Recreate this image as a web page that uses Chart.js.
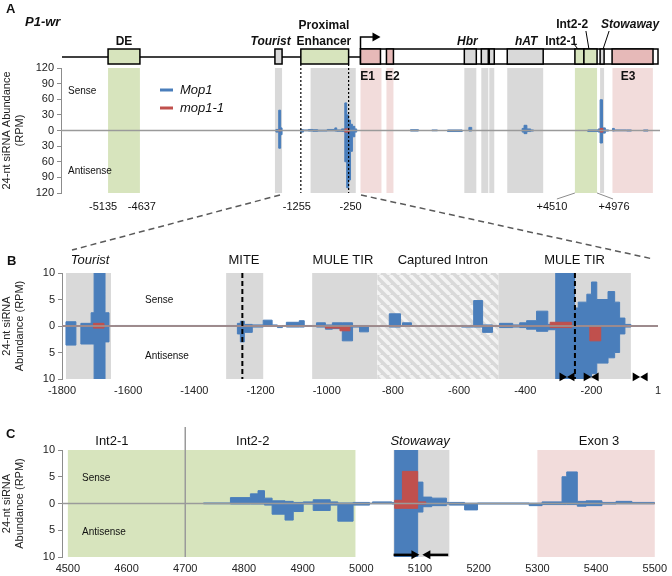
<!DOCTYPE html>
<html>
<head>
<meta charset="utf-8">
<title>P1-wr 24-nt siRNA</title>
<script src="https://cdn.jsdelivr.net/npm/chart.js@4.4.1/dist/chart.umd.min.js"></script>
<style>
  html, body { margin:0; padding:0; background:#fff; }
  #page { position:relative; width:672px; height:576px; overflow:hidden; }
  .pane { position:absolute; left:0; }
  #zoom { position:absolute; left:0; top:0; pointer-events:none; }
</style>
</head>
<body>
<div id="page">
  <canvas class="pane" id="chartA" width="672" height="225" style="top:0"></canvas>
  <canvas class="pane" id="chartB" width="672" height="175" style="top:225px"></canvas>
  <canvas class="pane" id="chartC" width="672" height="176" style="top:400px"></canvas>
  <svg id="zoom" width="672" height="576">
    <line x1="280" y1="195" x2="72" y2="250" stroke="#5a5a5a" stroke-width="1.5" stroke-dasharray="6 4"/>
    <line x1="361" y1="195" x2="653" y2="259" stroke="#5a5a5a" stroke-width="1.5" stroke-dasharray="6 4"/>
  </svg>
</div>
<script>
// ===== P1-wr 24-nt siRNA profiles =====

// --- panel A : whole locus (bp from TSS) ---
const A_MOP1_POS   = [-6300,-1780,-1720,-1680,-1650,-1260,-1200,-1100,-1000,-900,-700,-540,-500,-400,-330,-290,-250,-210,-170,-120,-80,1050,1220,1500,1620,1830,2140,2280,2340,3400,3440,3500,3580,3640,4780,5000,5040,5090,5150,5220,5300,5340,5600,5700,5950,6050,6300];
const A_MOP1_SENSE = [0,2,39,5,0,1.5,1,2,1.5,0.5,2,5,1,3,53,30,20,12,8,3,0,1.5,0,1,0,1,0,6,0,4,10,3,1,0,1,3,59,5,1,0,4,1,1,0,1,0,0];
const A_MOP1_ANTI  = [0,3,34,8,0,3,0.5,1,1.5,1,0.5,1,1.5,2,60,110,95,40,12,3,0,1,0,0.5,0,2,0,1,0,3,6,2,1,0,2,3,24,5,1,0,1,0.5,1,0,1,0,0];
const A_MUT_POS    = [-6300,-1720,-1680,-330,-230,5040,5100,6300];
const A_MUT_SENSE  = [0,1,0,3,0,4,0,0];
const A_MUT_ANTI   = [0,1,0,3,0,3,0,0];

const A_REGION_START = [-5310,-1800,-1050,0,546,2184,2541,2709,3087,4510,5040,5300];
const A_REGION_END   = [-4640,-1650,-100,441,693,2436,2688,2814,3843,4976,5124,6150];
const A_REGION_KIND  = ['green','gray','gray','pink','pink','gray','gray','gray','gray','green','gray','pink'];

const A_BOX_START = [-5310,-1800,-1255,0,0,546,2184,2541,2709,3087,4510,4700,5040,5292];
const A_BOX_END   = [-4640,-1650,-250,6258,420,693,2436,2688,2814,3843,4700,4976,5124,6153];
const A_BOX_KIND  = ['green','gray','green','white','pink','pink','gray','gray','gray','gray','green','green','gray','pink'];

const A_CUT_LABELS = ['-5135','-4637','-1255','-250','+4510','+4976'];
const A_CUT_AT     = [-5310,-4640,-1255,-250,4510,4976];
const A_MARKS      = [-1255,-250];

// --- panel B : upstream region ---
const B_TICKS = [-1800,-1600,-1400,-1200,-1000,-800,-600,-400,-200,1];
const B_MOP1_POS   = [-1800,-1788,-1758,-1743,-1712,-1703,-1670,-1658,-1640,-1270,-1261,-1249,-1225,-1192,-1165,-1149,-1134,-1122,-1083,-1068,-1031,-1004,-983,-953,-922,-901,-874,-811,-777,-771,-744,-593,-556,-529,-499,-478,-438,-417,-396,-366,-332,-308,-251,-240,-214,-200,-184,-150,-130,-115,-99,-81,1];
const B_MOP1_SENSE = [0,0.8,0,0.5,2.5,14,2.5,0,0.1,0.5,0.9,0.3,0.2,1.1,0.2,0,0.1,0.7,1.0,0.1,0.6,0.2,0.6,0.6,0.1,0.1,0,2.3,0.1,0.6,0.05,0.1,4.8,0.2,0.1,0.5,0.2,0.6,1.0,2.8,0.3,14,3.4,4.5,6.0,8.3,5.0,6.5,4.5,1.5,0.3,0.05,0];
const B_MOP1_ANTI  = [0,3.6,0,3.4,3.4,14,3.0,0,0.05,1.5,3.0,1.2,0.2,0.1,0.1,0.3,0,0.2,0.2,0.1,0.2,0.6,0.5,2.8,0.2,1.1,0.1,0.2,0.1,0.1,0.05,0.2,0.2,1.2,0.1,0.3,0.2,0.3,0.6,1.0,0.7,14,14,14,9.6,9.0,7.0,6.0,5.0,1.5,0.2,0.05,0];
const B_MUT_POS    = [-1800,-1705,-1673,-1004,-960,-930,-325,-260,-205,-172,1];
const B_MUT_SENSE  = [0,0.5,0,0,0,0,0.7,0,0,0,0];
const B_MUT_ANTI   = [0,0.4,0,0.4,0.9,0,0.3,0,2.8,0,0];

const B_REGION_START = [-1788,-1304,-1044,-847,-481];
const B_REGION_END   = [-1652,-1192,-847,-481,-81];
const B_REGION_KIND  = ['gray','gray','gray','hatch','gray'];
const B_LABELS   = ['Tourist','MITE','MULE TIR','Captured Intron','MULE TIR'];
const B_LABEL_AT = [-1715,-1250,-951,-649,-251];
const B_MARKS    = [-1255,-250];
const B_TIR_RIGHT = [-289,-216,-68];
const B_TIR_LEFT  = [-259,-186,-38];

// --- panel C : intron 2 / exon 3 ---
const C_TICKS = [4500,4600,4700,4800,4900,5000,5100,5200,5300,5400,5500];
const C_MOP1_POS   = [4490,4731,4777,4811,4824,4835,4848,4870,4884,4901,4918,4947,4960,4986,5014,5019,5052,5057,5096,5105,5120,5145,5150,5176,5198,5286,5308,5342,5350,5368,5383,5410,5434,5461,5500];
const C_MOP1_SENSE = [0,0.1,1.1,1.8,2.4,1.0,0.5,0.4,0.2,0.3,0.7,0.3,0.1,0.2,0.05,0.3,0.2,14,4.0,1.2,1.0,0.2,0.2,0.05,0.1,0.05,0.3,5.0,5.9,0.4,0.5,0.2,0.4,0.2,0];
const C_MOP1_ANTI  = [0,0.05,0.1,0.1,0.1,0.3,2.0,3.1,1.5,0.1,1.3,0.3,3.3,0.3,0.05,0.05,0.1,14,1.6,0.6,0.4,0.1,0.3,1.2,0.1,0.4,0.2,0.2,0.2,0.5,0.4,0.1,0.05,0.05,0];
const C_MUT_POS    = [4490,5057,5070,5096,5110,5500];
const C_MUT_SENSE  = [0,0.6,6.0,0.3,0,0];
const C_MUT_ANTI   = [0,0.9,0.9,0.1,0,0];

const C_REGION_START = [4500,4700,5055,5300];
const C_REGION_END   = [4700,4990,5150,5500];
const C_REGION_KIND  = ['green','green','gray','pink'];
const C_LABELS   = ['Int2-1','Int2-2','Stowaway','Exon 3'];
const C_LABEL_AT = [4575,4815,5100,5405];
const C_DIVIDER  = 4700;
const C_ARROW_FROM = [5055,5148];
const C_ARROW_TO   = [5099,5104];

// ---------- styling ----------
const FONT  = "'Liberation Sans', Arial, Helvetica, sans-serif";
const BLUE  = '#4a7ebb', RED = '#c0504d';
const SHADE = { green:'#d7e4bd', gray:'#d9d9d9', pink:'#f2dcdb' };
const BOX   = { green:'#d7e4bd', gray:'#d9d9d9', pink:'#e6b9b8', white:'#ffffff' };

Chart.defaults.font.family = FONT;
Chart.defaults.font.size = 11;
Chart.defaults.color = '#222';

let hatch = null;
function hatchPattern(ctx) {
  if (hatch) return hatch;
  const c = document.createElement('canvas');
  c.width = c.height = 10;
  const g = c.getContext('2d');
  g.fillStyle = '#d9d9d9'; g.fillRect(0, 0, 10, 10);
  g.strokeStyle = '#f3f3f3'; g.lineWidth = 3.5;
  g.beginPath();
  [-10, 0, 10].forEach(o => { g.moveTo(o, 0); g.lineTo(o + 10, 10); });
  g.stroke();
  hatch = ctx.createPattern(c, 'repeat');
  return hatch;
}

function shade(chart, starts, ends, kinds) {
  const { ctx, chartArea:a, scales:{ x } } = chart;
  ctx.save();
  starts.forEach((s, i) => {
    const x0 = Math.max(a.left, x.getPixelForValue(s));
    const x1 = Math.min(a.right, x.getPixelForValue(ends[i]));
    ctx.fillStyle = kinds[i] === 'hatch' ? hatchPattern(ctx) : SHADE[kinds[i]];
    ctx.fillRect(x0, a.top, x1 - x0, a.bottom - a.top);
  });
  ctx.restore();
}

function zeroLine(chart) {
  const { ctx, chartArea:a, scales:{ y } } = chart;
  const y0 = y.getPixelForValue(0);
  ctx.save();
  ctx.strokeStyle = '#9a9a9a'; ctx.lineWidth = 1.5;
  ctx.beginPath(); ctx.moveTo(a.left, y0); ctx.lineTo(a.right, y0); ctx.stroke();
  ctx.restore();
}

function vmarks(chart, xs, top, dash, width) {
  const { ctx, chartArea:a, scales:{ x } } = chart;
  ctx.save();
  ctx.strokeStyle = '#000'; ctx.lineWidth = width; ctx.setLineDash(dash);
  xs.forEach(v => {
    const p = x.getPixelForValue(v);
    ctx.beginPath(); ctx.moveTo(p, top); ctx.lineTo(p, a.bottom); ctx.stroke();
  });
  ctx.restore();
}

function text(ctx, s, x, y, font, align, base) {
  ctx.save();
  ctx.font = font + ' ' + FONT;
  ctx.fillStyle = '#111';
  ctx.textAlign = align || 'center';
  ctx.textBaseline = base || 'alphabetic';
  ctx.fillText(s, x, y);
  ctx.restore();
}

function seg(ctx, x0, y0, x1, y1) {
  ctx.beginPath(); ctx.moveTo(x0, y0); ctx.lineTo(x1, y1); ctx.stroke();
}

function strandLabels(chart, dx, sy, ay) {
  const { ctx, chartArea:a, scales:{ y } } = chart;
  text(ctx, 'Sense', a.left + dx, y.getPixelForValue(sy), '10px', 'left', 'middle');
  text(ctx, 'Antisense', a.left + dx, y.getPixelForValue(ay), '10px', 'left', 'middle');
}

function strand(label, pos, vals, sign, color) {
  return {
    label, data: pos.map((p, i) => ({ x:p, y:sign * vals[i] })),
    stepped:true, fill:'origin', backgroundColor:color, borderColor:color,
    borderWidth:1, pointRadius:0
  };
}

// index 0 is painted last, so mop1-1 sits on top of Mop1
function traces(mPos, mS, mA, uPos, uS, uA) {
  return [
    strand('mop1-1', uPos, uS, 1, RED), strand('mop1-1', uPos, uA, -1, RED),
    strand('Mop1', mPos, mS, 1, BLUE),  strand('Mop1', mPos, mA, -1, BLUE)
  ];
}

function yAxis(lim, step, title, width) {
  return {
    min:-lim, max:lim,
    ticks:{ stepSize:step, autoSkip:false, callback:v => Math.abs(v), color:'#222', font:{ size:11 }, padding:3 },
    grid:{ drawOnChartArea:false, tickLength:4, color:'#8c8c8c' },
    border:{ color:'#8c8c8c' },
    title:{ display:true, text:title, color:'#222', font:{ size:11 }, padding:0 },
    afterFit: s => { s.width = width; }
  };
}

function xAxis(min, max, ticks, height) {
  return {
    type:'linear', min, max,
    afterBuildTicks: s => { s.ticks = ticks.map(v => ({ value:v })); },
    ticks:{ autoSkip:false, maxRotation:0, padding:5, color:'#222', font:{ size:11 }, callback:v => String(v) },
    grid:{ display:false, drawTicks:false }, border:{ display:false },
    afterFit: s => { s.height = height; }
  };
}

function options(padding, x, y) {
  return {
    responsive:false, animation:false, events:[],
    layout:{ padding },
    plugins:{ legend:{ display:false }, tooltip:{ enabled:false } },
    scales:{ x, y }
  };
}

// ---------- panel A ----------
const panelA = {
  id:'panelA',
  beforeDatasetsDraw(chart) { shade(chart, A_REGION_START, A_REGION_END, A_REGION_KIND); },
  afterDatasetsDraw(chart) {
    zeroLine(chart);
    vmarks(chart, A_MARKS, 64, [2, 2], 1.2);
  },
  afterDraw(chart) {
    const { ctx, chartArea:a, scales:{ x } } = chart;
    const px = v => x.getPixelForValue(v);
    ctx.save();
    ctx.strokeStyle = '#000'; ctx.lineWidth = 1.5;
    seg(ctx, a.left + 1, 57, px(0), 57);
    A_BOX_START.forEach((s, i) => {
      const x0 = px(s), x1 = px(A_BOX_END[i]);
      ctx.fillStyle = BOX[A_BOX_KIND[i]];
      ctx.fillRect(x0, 49, x1 - x0, 15);
      ctx.strokeRect(x0, 49, x1 - x0, 15);
    });
    // transcription start arrow
    const p0 = px(0);
    ctx.beginPath(); ctx.moveTo(p0, 49); ctx.lineTo(p0, 37); ctx.lineTo(p0 + 13, 37); ctx.stroke();
    ctx.fillStyle = '#000';
    ctx.beginPath(); ctx.moveTo(p0 + 12, 32.5); ctx.lineTo(p0 + 20, 37); ctx.lineTo(p0 + 12, 41.5); ctx.closePath(); ctx.fill();
    // pointer lines to small features
    ctx.lineWidth = 1;
    seg(ctx, px(4510) - 1, 44, px(4510) + 3, 49);
    seg(ctx, px(4700) + 2, 31, px(4700) + 5, 49);
    seg(ctx, px(5040) + 9, 31, px(5040) + 3, 49);
    ctx.strokeStyle = '#8c8c8c';
    seg(ctx, px(4510), 193, px(4510) - 18, 199);
    seg(ctx, px(4976), 193, px(4976) + 16, 199);
    ctx.restore();

    const B = 'bold 12px', BI = 'italic bold 12px';
    text(ctx, 'DE', px(-4975), 45, B);
    text(ctx, 'Tourist', px(-1890), 45, BI);
    text(ctx, 'Proximal', px(-770), 29, B);
    text(ctx, 'Enhancer', px(-770), 45, B);
    text(ctx, 'Hbr', px(2247), 45, BI);
    text(ctx, 'hAT', px(3486), 45, BI);
    text(ctx, 'Int2-1', px(4221), 45, B);
    text(ctx, 'Int2-2', px(4452), 28, B);
    text(ctx, 'Stowaway', px(5670), 28, BI);
    text(ctx, 'E1', px(147), 80, B);
    text(ctx, 'E2', px(672), 80, B);
    text(ctx, 'E3', px(5628), 80, B);

    const shift = [-5, 2, -4, 2, -23, 17];
    A_CUT_LABELS.forEach((s, i) => text(ctx, s, px(A_CUT_AT[i]) + shift[i], 210, '11px'));

    text(ctx, 'A', 6, 13, 'bold 13px', 'left');
    text(ctx, 'P1-wr', 25, 26, 'italic bold 13px', 'left');
    strandLabels(chart, 7, 76, -78);

    // legend
    [['Mop1', BLUE, 90], ['mop1-1', RED, 108]].forEach(([name, col, yy]) => {
      ctx.save(); ctx.strokeStyle = col; ctx.lineWidth = 3;
      seg(ctx, 160, yy, 173, yy); ctx.restore();
      text(ctx, name, 180, yy, 'italic 13px', 'left', 'middle');
    });
  }
};

new Chart(document.getElementById('chartA'), {
  type:'line',
  data:{ datasets: traces(A_MOP1_POS, A_MOP1_SENSE, A_MOP1_ANTI, A_MUT_POS, A_MUT_SENSE, A_MUT_ANTI) },
  options: options({ top:68, right:12, bottom:32, left:0 },
    { type:'linear', min:-6300, max:6300, display:false },
    yAxis(120, 30, ['24-nt siRNA Abundance', '(RPM)'], 61)),
  plugins:[panelA]
});

// ---------- panel B ----------
const panelB = {
  id:'panelB',
  beforeDatasetsDraw(chart) { shade(chart, B_REGION_START, B_REGION_END, B_REGION_KIND); },
  afterDatasetsDraw(chart) {
    zeroLine(chart);
    vmarks(chart, B_MARKS, chart.chartArea.top, [5, 3], 2);
  },
  afterDraw(chart) {
    const { ctx, scales:{ x } } = chart;
    B_LABELS.forEach((s, i) => text(ctx, s, x.getPixelForValue(B_LABEL_AT[i]), 39, i === 0 ? 'italic 13px' : '13px'));
    text(ctx, 'B', 7, 40, 'bold 13px', 'left');
    strandLabels(chart, 83, 4.9, -5.7);
  }
};

const tirs = {
  label:'TIR', data:[...B_TIR_RIGHT, ...B_TIR_LEFT].map(v => ({ x:v, y:-9.6 })),
  showLine:false, pointStyle:'triangle', pointRadius:5, pointBorderWidth:0,
  pointBackgroundColor:'#000', pointRotation:[...B_TIR_RIGHT.map(() => 90), ...B_TIR_LEFT.map(() => -90)],
  clip:false
};

new Chart(document.getElementById('chartB'), {
  type:'line',
  data:{ datasets:[tirs, ...traces(B_MOP1_POS, B_MOP1_SENSE, B_MOP1_ANTI, B_MUT_POS, B_MUT_SENSE, B_MUT_ANTI)] },
  options: options({ top:48, right:14, bottom:0, left:0 },
    xAxis(-1800, 1, B_TICKS, 21),
    yAxis(10, 5, ['24-nt siRNA', 'Abundance (RPM)'], 62)),
  plugins:[panelB]
});

// ---------- panel C ----------
const panelC = {
  id:'panelC',
  beforeDatasetsDraw(chart) {
    shade(chart, C_REGION_START, C_REGION_END, C_REGION_KIND);
    const { ctx, chartArea:a, scales:{ x } } = chart;
    const p = x.getPixelForValue(C_DIVIDER);
    ctx.save(); ctx.strokeStyle = '#9a9a9a'; ctx.lineWidth = 1.5;
    seg(ctx, p, a.top - 23, p, a.bottom); ctx.restore();
  },
  afterDatasetsDraw(chart) {
    zeroLine(chart);
    const { ctx, scales:{ x, y } } = chart;
    const yy = y.getPixelForValue(-9.6);
    ctx.save(); ctx.strokeStyle = '#000'; ctx.fillStyle = '#000'; ctx.lineWidth = 2.5;
    C_ARROW_FROM.forEach((f, i) => {
      const x0 = x.getPixelForValue(f), x1 = x.getPixelForValue(C_ARROW_TO[i]);
      const d = Math.sign(x1 - x0);
      seg(ctx, x0, yy, x1 - d * 5, yy);
      ctx.beginPath(); ctx.moveTo(x1, yy); ctx.lineTo(x1 - d * 8, yy - 4.5); ctx.lineTo(x1 - d * 8, yy + 4.5); ctx.closePath(); ctx.fill();
    });
    ctx.restore();
  },
  afterDraw(chart) {
    const { ctx, scales:{ x } } = chart;
    C_LABELS.forEach((s, i) => text(ctx, s, x.getPixelForValue(C_LABEL_AT[i]), 45, s === 'Stowaway' ? 'italic 13px' : '13px'));
    text(ctx, 'C', 6, 38, 'bold 13px', 'left');
    strandLabels(chart, 20, 4.7, -5.3);
  }
};

new Chart(document.getElementById('chartC'), {
  type:'line',
  data:{ datasets: traces(C_MOP1_POS, C_MOP1_SENSE, C_MOP1_ANTI, C_MUT_POS, C_MUT_SENSE, C_MUT_ANTI) },
  options: options({ top:50, right:14, bottom:0, left:0 },
    xAxis(4490, 5500, C_TICKS, 19),
    yAxis(10, 5, ['24-nt siRNA', 'Abundance (RPM)'], 62)),
  plugins:[panelC]
});
</script>
</body>
</html>
